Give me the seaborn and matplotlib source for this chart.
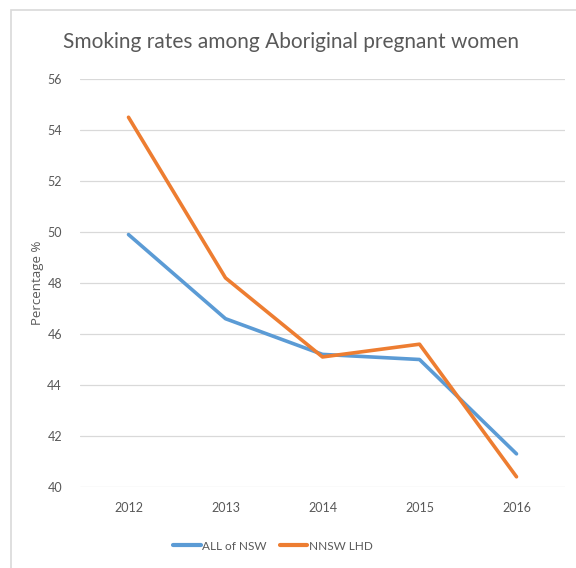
import matplotlib
matplotlib.use("Agg")
import matplotlib.pyplot as plt
from matplotlib.patches import Rectangle
from matplotlib.lines import Line2D
import seaborn as sns
import pandas as pd

# Smoking rates (%) among Aboriginal pregnant women
years = ["2012", "2013", "2014", "2015", "2016"]
all_nsw = [49.9, 46.6, 45.2, 45.0, 41.3]
nnsw_lhd = [54.5, 48.2, 45.1, 45.6, 40.4]
series_names = ["ALL of NSW", "NNSW LHD"]
y_ticks = [40, 42, 44, 46, 48, 50, 52, 54, 56]

colors = {"ALL of NSW": "#5B9BD5", "NNSW LHD": "#ED7D31"}
text_gray = "#595959"

df = pd.DataFrame({
    "year": years * 2,
    "rate": all_nsw + nnsw_lhd,
    "series": [series_names[0]] * len(years) + [series_names[1]] * len(years),
})

sns.set_theme(style="white")
plt.rcParams["font.family"] = ["Lato", "DejaVu Sans"]

fig = plt.figure(figsize=(5.76, 5.68), dpi=100)
ax = fig.add_axes([80 / 576, 1 - 487 / 568, 485 / 576, 408 / 568])

# chart frame
fig.patches.append(Rectangle((11 / 576, -0.1), 1.2, 1 - 10 / 568 + 0.1,
                             transform=fig.transFigure, fill=False,
                             edgecolor="#D9D9D9", linewidth=1.2, zorder=0))

sns.lineplot(data=df, x="year", y="rate", hue="series", palette=colors,
             linewidth=2.6, ax=ax, legend=False, sort=False)

ax.set_xlim(-0.5, len(years) - 0.5)
ax.set_ylim(40, 56)
ax.set_yticks(y_ticks)
ax.set_yticklabels([str(t) for t in y_ticks])
ax.yaxis.grid(True, color="#D9D9D9", linewidth=0.9)
ax.xaxis.grid(False)
ax.set_axisbelow(True)
for s in ax.spines.values():
    s.set_visible(False)
ax.tick_params(axis="both", length=0, labelsize=9, colors=text_gray)
ax.tick_params(axis="y", pad=13)
ax.tick_params(axis="x", pad=11)
ax.set_xlabel("")
ax.set_ylabel("Percentage %", fontsize=9.5, color=text_gray,
              family=["Open Sans", "DejaVu Sans"], labelpad=2)

fig.text(291 / 576, 1 - 42 / 568, "Smoking rates among Aboriginal pregnant women",
         ha="center", va="center", fontsize=15, color=text_gray)

handles = [Line2D([], [], color=colors[n], linewidth=3) for n in series_names]
fig.legend(handles, series_names, loc="center", bbox_to_anchor=(273 / 576, 1 - 546 / 568),
           ncol=2, frameon=False, fontsize=8.5, handlelength=2.3, handletextpad=0.15,
           columnspacing=1.1, labelcolor=text_gray)

fig.savefig("out.png", dpi=100)
